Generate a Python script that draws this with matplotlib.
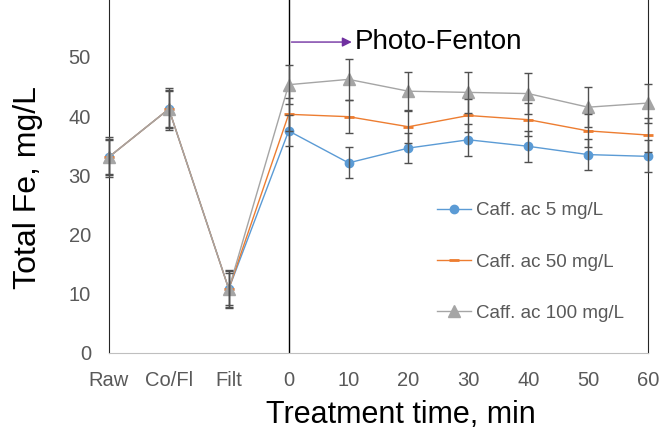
import numpy as np
import matplotlib.pyplot as plt

plt.rcParams['font.family'] = ['Liberation Sans', 'DejaVu Sans']

# categorie asse x
categorie = ['Raw', 'Co/Fl', 'Filt', '0', '10', '20', '30', '40', '50', '60']

# Fe totale [mg/L] per le tre concentrazioni di acido caffeico
fe_5 = [33.1, 41.2, 10.8, 37.5, 32.1, 34.6, 36.0, 34.9, 33.5, 33.2]
fe_50 = [33.1, 41.2, 10.8, 40.3, 39.9, 38.2, 40.1, 39.4, 37.5, 36.8]
fe_100 = [33.1, 41.2, 10.8, 45.3, 46.2, 44.2, 44.0, 43.8, 41.5, 42.2]

err_5 = [3.4, 3.5, 3.2, 2.6, 2.6, 2.6, 2.7, 2.6, 2.6, 2.7]
err_50 = [2.8, 3.0, 2.7, 2.8, 2.8, 2.8, 2.8, 2.8, 2.8, 2.8]
err_100 = [3.0, 3.2, 3.0, 3.3, 3.4, 3.3, 3.5, 3.4, 3.4, 3.3]

etichette = ['Caff. ac 5 mg/L', 'Caff. ac 50 mg/L', 'Caff. ac 100 mg/L']

x = np.arange(len(categorie))

fig = plt.figure(figsize=(6.6, 4.3), dpi=100)
ax = fig.add_axes([109 / 660, 1 - 353 / 430, (648 - 109) / 660, 353 / 430])

# Serie
ax.plot(x, fe_5, color='#5B9BD5', lw=1, marker='o', ms=6, label=etichette[0], zorder=3, clip_on=False)
ax.plot(x, fe_50, color='#ED7D31', lw=1, marker='_', ms=7, mew=2, label=etichette[1], zorder=3, clip_on=False)
ax.plot(x, fe_100, color='#A5A5A5', lw=1, marker='^', ms=9, label=etichette[2], zorder=3, clip_on=False)

# Barre di errore
for vals, errs in [(fe_5, err_5), (fe_50, err_50), (fe_100, err_100)]:
    eb = ax.errorbar(x, vals, yerr=errs, fmt='none', ecolor='#505050', elinewidth=1,
                     capsize=3, capthick=1, zorder=4)
    for art in eb.lines[1] + eb.lines[2]:
        art.set_clip_on(False)

# Linea che separa il pretrattamento dal Photo-Fenton
ax.axvline(3, color='black', lw=1, zorder=2)

ax.set_xlim(0, 9)
ax.set_ylim(0, 59.6)
ax.set_xticks(x)
ax.set_xticklabels(categorie)
ax.set_yticks([0, 10, 20, 30, 40, 50])
ax.tick_params(axis='both', length=0, labelsize=14.5, labelcolor='#595959', pad=13)

ax.spines['top'].set_visible(False)
ax.spines['left'].set_color('#262626')
ax.spines['right'].set_color('#262626')
ax.spines['bottom'].set_color('#BFBFBF')

ax.set_xlabel('Treatment time, min', fontsize=22)
ax.xaxis.set_label_coords(0.542, -0.197, transform=ax.transAxes)
ax.xaxis.label.set_va('baseline')
ax.set_ylabel('Total Fe, mg/L', fontsize=23)
ax.yaxis.set_label_coords(-0.123, 0.47, transform=ax.transAxes)

# Freccia Photo-Fenton
ax.annotate('', xy=(4.1, 52.5), xytext=(3, 52.5),
            arrowprops=dict(arrowstyle='-|>', color='#7030A0', lw=1, mutation_scale=14))
ax.text(4.1, 52.5, 'Photo-Fenton', fontsize=20, va='center', ha='left', color='black')

ax.legend(loc='upper left', bbox_to_anchor=(0.6085, 0.427), frameon=False, fontsize=13.5,
          labelcolor='#595959', labelspacing=1.82, handlelength=1.8, handletextpad=0.3,
          borderpad=0, borderaxespad=0)

plt.savefig('out.png', dpi=100)
